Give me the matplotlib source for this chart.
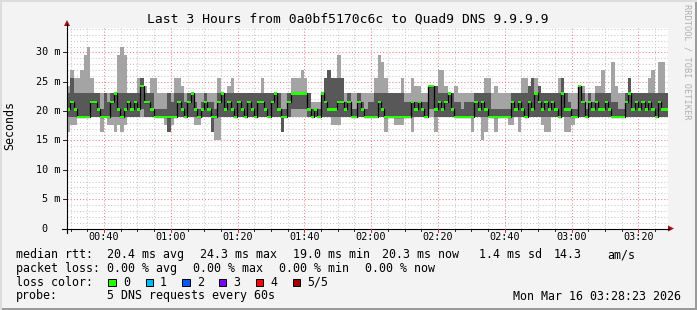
import numpy as np
import matplotlib
matplotlib.use('Agg')
import matplotlib.pyplot as plt
from matplotlib.patches import Rectangle, Polygon
from matplotlib.lines import Line2D

# ---------------- data (ms), one value per 1-minute sample ----------------
ping_min = [
    16.4, 17.7, 17.7, 19.0, 19.0, 19.0, 19.0, 19.0, 19.0, 19.0,
    16.4, 19.0, 17.7, 17.7, 16.4, 17.7, 16.4, 17.7, 19.0, 19.0,
    19.0, 19.0, 19.0, 19.0, 19.0, 19.0, 19.0, 19.0, 19.0, 17.7,
    16.4, 17.7, 19.0, 19.0, 19.0, 19.0, 19.0, 19.0, 17.7, 17.7,
    19.0, 19.0, 19.0, 16.4, 15.0, 15.0, 19.0, 19.0, 19.0, 19.0,
    19.0, 19.0, 19.0, 19.0, 19.0, 19.0, 19.0, 19.0, 19.0, 19.0,
    19.0, 19.0, 19.0, 19.0, 16.4, 19.0, 19.0, 19.0, 19.0, 19.0,
    19.0, 19.0, 19.0, 19.0, 19.0, 19.0, 19.0, 19.0, 19.0, 17.7,
    17.7, 17.7, 19.0, 19.0, 19.0, 19.0, 19.0, 19.0, 19.0, 19.0,
    19.0, 19.0, 19.0, 19.0, 19.0, 16.4, 19.0, 19.0, 17.7, 17.7,
    17.7, 19.0, 19.0, 16.4, 19.0, 19.0, 19.0, 19.0, 19.0, 19.0,
    16.4, 19.0, 19.0, 19.0, 19.0, 19.0, 19.0, 19.0, 19.0, 19.0,
    19.0, 16.4, 19.0, 19.0, 15.0, 16.4, 19.0, 19.0, 16.4, 19.0,
    19.0, 19.0, 17.7, 17.7, 19.0, 16.4, 19.0, 19.0, 19.0, 19.0,
    19.0, 19.0, 17.7, 16.4, 16.4, 19.0, 19.0, 19.0, 19.0, 16.4,
    16.4, 17.7, 19.0, 19.0, 19.0, 19.0, 19.0, 19.0, 19.0, 19.0,
    19.0, 19.0, 19.0, 19.0, 19.0, 19.0, 19.0, 19.0, 19.0, 19.0,
    19.0, 19.0, 19.0, 19.0, 19.0, 19.0, 19.0, 19.0, 19.0, 19.0,
]
ping_low = [
    19.0, 19.0, 19.0, 19.0, 19.0, 19.0, 19.0, 19.0, 19.0, 19.0,
    19.0, 19.0, 19.0, 19.0, 19.0, 19.0, 19.0, 19.0, 19.0, 19.0,
    19.0, 19.0, 20.3, 19.0, 19.0, 19.0, 19.0, 19.0, 19.0, 19.0,
    16.4, 19.0, 19.0, 19.0, 19.0, 19.0, 19.0, 19.0, 19.0, 19.0,
    19.0, 19.0, 19.0, 16.4, 19.0, 19.0, 19.0, 19.0, 19.0, 19.0,
    19.0, 19.0, 19.0, 19.0, 19.0, 19.0, 19.0, 19.0, 19.0, 19.0,
    19.0, 19.0, 19.0, 19.0, 16.4, 19.0, 19.0, 20.3, 20.3, 20.3,
    20.3, 20.3, 19.0, 19.0, 19.0, 19.0, 19.0, 19.0, 19.0, 19.0,
    19.0, 19.0, 19.0, 19.0, 19.0, 19.0, 19.0, 19.0, 19.0, 19.0,
    19.0, 19.0, 19.0, 19.0, 19.0, 19.0, 19.0, 19.0, 19.0, 19.0,
    19.0, 19.0, 19.0, 19.0, 19.0, 19.0, 19.0, 19.0, 20.3, 20.3,
    19.0, 19.0, 19.0, 19.0, 19.0, 19.0, 19.0, 19.0, 19.0, 19.0,
    19.0, 19.0, 19.0, 19.0, 19.0, 19.0, 19.0, 19.0, 19.0, 19.0,
    19.0, 19.0, 19.0, 19.0, 19.0, 19.0, 19.0, 19.0, 19.0, 19.0,
    19.0, 19.0, 19.0, 19.0, 19.0, 19.0, 19.0, 19.0, 19.0, 19.0,
    19.0, 19.0, 19.0, 19.0, 19.0, 19.0, 19.0, 19.0, 19.0, 19.0,
    19.0, 19.0, 19.0, 19.0, 19.0, 19.0, 19.0, 19.0, 19.0, 19.0,
    19.0, 19.0, 19.0, 19.0, 19.0, 19.0, 19.0, 19.0, 19.0, 19.0,
]
median_rtt = [
    20.3, 21.6, 20.3, 19.0, 19.0, 19.0, 19.0, 21.6, 21.6, 20.3,
    19.0, 19.0, 19.0, 21.6, 23.0, 20.3, 19.0, 20.3, 21.6, 20.3,
    21.6, 20.3, 24.3, 21.6, 21.6, 20.3, 19.0, 19.0, 19.0, 19.0,
    19.0, 19.0, 19.0, 21.6, 20.3, 19.0, 21.6, 23.0, 20.3, 19.0,
    20.3, 21.6, 20.3, 19.0, 19.0, 21.6, 23.0, 20.3, 21.6, 20.3,
    19.0, 21.6, 20.3, 19.0, 21.6, 20.3, 19.0, 21.6, 21.6, 20.3,
    19.0, 21.6, 23.0, 20.3, 19.0, 19.0, 21.6, 23.0, 23.0, 23.0,
    23.0, 23.0, 20.3, 19.0, 20.3, 19.0, 23.0, 21.6, 20.3, 20.3,
    20.3, 21.6, 21.6, 20.3, 21.6, 19.0, 19.0, 21.6, 20.3, 19.0,
    19.0, 19.0, 19.0, 21.6, 20.3, 19.0, 19.0, 19.0, 19.0, 19.0,
    19.0, 19.0, 19.0, 21.6, 20.3, 21.6, 20.3, 19.0, 24.3, 24.3,
    20.3, 21.6, 20.3, 21.6, 23.0, 20.3, 19.0, 19.0, 19.0, 19.0,
    19.0, 19.0, 21.6, 20.3, 21.6, 20.3, 19.0, 19.0, 19.0, 19.0,
    19.0, 19.0, 19.0, 21.6, 20.3, 21.6, 20.3, 19.0, 21.6, 20.3,
    23.0, 21.6, 20.3, 21.6, 20.3, 21.6, 20.3, 19.0, 23.0, 20.3,
    20.3, 19.0, 19.0, 24.3, 21.6, 19.0, 21.6, 20.3, 21.6, 20.3,
    20.3, 21.6, 20.3, 19.0, 19.0, 19.0, 19.0, 21.6, 23.0, 20.3,
    21.6, 20.3, 21.6, 20.3, 21.6, 20.3, 19.0, 21.6, 20.3, 20.3,
]
ping_high = [
    23.0, 25.6, 23.0, 23.0, 23.0, 23.0, 23.0, 23.0, 23.0, 23.0,
    20.3, 23.0, 21.6, 23.0, 23.0, 23.0, 23.0, 23.0, 23.0, 23.0,
    23.0, 23.0, 25.6, 23.0, 23.0, 23.0, 20.3, 20.3, 20.3, 20.3,
    23.0, 21.6, 23.0, 23.0, 23.0, 21.6, 23.0, 23.0, 21.6, 20.3,
    21.6, 23.0, 21.6, 21.6, 20.3, 23.0, 23.0, 23.0, 23.0, 23.0,
    23.0, 23.0, 23.0, 23.0, 23.0, 23.0, 23.0, 23.0, 23.0, 23.0,
    23.0, 23.0, 23.0, 23.0, 20.3, 20.3, 23.0, 23.0, 23.0, 23.0,
    23.0, 23.0, 23.0, 20.3, 20.3, 20.3, 23.0, 25.6, 27.0, 25.6,
    25.6, 25.6, 25.6, 21.6, 23.0, 20.3, 20.3, 23.0, 21.6, 20.3,
    21.6, 21.6, 23.0, 23.0, 23.0, 23.0, 23.0, 23.0, 23.0, 23.0,
    23.0, 21.6, 21.6, 21.6, 21.6, 21.6, 21.6, 21.6, 24.3, 24.3,
    24.3, 23.0, 23.0, 23.0, 23.0, 23.0, 21.6, 21.6, 20.3, 21.6,
    21.6, 21.6, 23.0, 23.0, 23.0, 23.0, 23.0, 20.3, 20.3, 20.3,
    20.3, 20.3, 20.3, 23.0, 23.0, 23.0, 23.0, 23.0, 24.3, 25.6,
    23.0, 24.3, 23.0, 23.0, 23.0, 23.0, 23.0, 23.0, 25.6, 23.0,
    21.6, 20.3, 20.3, 24.3, 23.0, 20.3, 23.0, 21.6, 23.0, 23.0,
    23.0, 23.0, 23.0, 21.6, 21.6, 20.3, 20.3, 23.0, 25.6, 23.0,
    23.0, 23.0, 23.0, 23.0, 23.0, 23.0, 23.0, 23.0, 23.0, 23.0,
]
ping_max = [
    24.3, 27.0, 25.6, 25.6, 27.0, 29.6, 31.0, 25.6, 23.0, 23.0,
    23.0, 23.0, 23.0, 23.0, 23.0, 29.6, 31.0, 29.6, 23.0, 23.0,
    23.0, 25.6, 25.6, 24.3, 23.0, 25.6, 25.6, 23.0, 23.0, 23.0,
    23.0, 23.0, 25.6, 25.6, 24.3, 23.0, 23.0, 23.0, 23.0, 23.0,
    23.0, 23.0, 23.0, 23.0, 23.0, 25.6, 23.0, 23.0, 24.3, 25.6,
    23.0, 23.0, 23.0, 23.0, 23.0, 23.0, 23.0, 23.0, 25.6, 23.0,
    23.0, 23.0, 23.0, 23.0, 23.0, 23.0, 23.0, 25.6, 25.6, 25.6,
    27.0, 25.6, 23.0, 21.6, 21.6, 21.6, 23.0, 25.6, 27.0, 25.6,
    25.6, 29.6, 25.6, 23.0, 23.0, 23.0, 23.0, 23.0, 23.0, 23.0,
    23.0, 23.0, 25.6, 29.6, 28.3, 25.6, 23.0, 23.0, 23.0, 23.0,
    25.6, 23.0, 23.0, 25.6, 24.3, 24.3, 23.0, 23.0, 24.3, 24.3,
    24.3, 27.0, 27.0, 24.3, 23.0, 23.0, 24.3, 23.0, 23.0, 23.0,
    23.0, 23.0, 23.0, 23.0, 23.0, 25.6, 25.6, 23.0, 24.3, 23.0,
    23.0, 23.0, 23.0, 23.0, 23.0, 23.0, 25.6, 25.6, 24.3, 25.6,
    25.6, 24.3, 23.0, 23.0, 23.0, 23.0, 23.0, 25.6, 25.6, 23.0,
    23.0, 23.0, 23.0, 24.3, 24.3, 23.0, 23.0, 23.0, 24.3, 24.3,
    27.0, 23.0, 23.0, 28.3, 24.3, 23.0, 23.0, 23.0, 25.6, 23.0,
    23.0, 23.0, 23.0, 23.0, 25.6, 27.0, 23.0, 28.3, 28.3, 23.0,
]

time_labels = ["00:40", "01:00", "01:20", "01:40", "02:00", "02:20", "02:40", "03:00", "03:20"]
time_label_minutes = [40, 60, 80, 100, 120, 140, 160, 180, 200]
y_tick_values = [0, 5, 10, 15, 20, 25, 30]
y_tick_labels = ["0", "5 m", "10 m", "15 m", "20 m", "25 m", "30 m"]

title = "Last 3 Hours from 0a0bf5170c6c to Quad9 DNS 9.9.9.9"
loss_labels = ["0", "1", "2", "3", "4", "5/5"]
loss_colors = ["#26ff00", "#00b8ff", "#0059ff", "#7e00ff", "#ff0000", "#a10000"]

# ---------------- layout ----------------
W, H = 697, 310
fig = plt.figure(figsize=(W / 100, H / 100), dpi=100)
fig.patch.set_facecolor('#f3f3f3')
MONO = 'DejaVu Sans Mono'


def fx(x):
    return x / W


def fy(y):
    return 1 - y / H


X0, X1, YB, YT = 67, 668, 228.5, 28
ax = fig.add_axes([fx(X0), fy(YB), (X1 - X0) / W, (YB - YT) / H])
ax.set_facecolor('white')
start = 28.9
n = len(median_rtt)
edges = start + np.arange(n + 1)
ax.set_xlim(start, start + 180)
ax.set_ylim(0, (YB - YT) / 5.87)
for s in ax.spines.values():
    s.set_visible(False)
ax.set_xticks([])
ax.set_yticks([])

DOT = (0, (1, 2))
# grid
for t in range(30, 210, 5):
    if t % 20 != 0:
        ax.axvline(t, color='#c8c8c8', lw=0.75, ls=DOT, zorder=0)
for v in range(1, 35):
    if v % 5 != 0:
        ax.axhline(v, color='#c8c8c8', lw=0.75, ls=DOT, zorder=0)
for t in time_label_minutes:
    ax.axvline(t, color='#f08080', lw=0.75, ls=DOT, zorder=1)
for v in y_tick_values[1:]:
    ax.axhline(v, color='#f08080', lw=0.75, ls=DOT, zorder=1)

pmin = np.array(ping_min)
plow = np.array(ping_low)
med = np.array(median_rtt)
phigh = np.array(ping_high)
pmax = np.array(ping_max)

ax.stairs(pmax, edges, baseline=pmin, fill=True, color='#a4a4a4', lw=0, zorder=2)
ax.stairs(phigh, edges, baseline=plow, fill=True, color='#585858', lw=0, zorder=3)
ax.stairs(med, edges, baseline=None, color='#000000', lw=0.9, zorder=4)
ax.stairs(med + 0.2, edges, baseline=med - 0.2, fill=True, color=loss_colors[0], lw=0, zorder=5)

# axis lines and arrows (figure pixel coordinates)
fig.add_artist(Line2D([fx(X0), fx(X0)], [fy(YB + 4), fy(24)], color='black', lw=0.8))
fig.add_artist(Line2D([fx(62), fx(X1 + 1)], [fy(YB), fy(YB)], color='black', lw=0.8))
fig.add_artist(Polygon([[fx(64), fy(26)], [fx(70), fy(26)], [fx(67), fy(20)]],
                       closed=True, color='#a01010', lw=0))
fig.add_artist(Polygon([[fx(668), fy(YB - 3)], [fx(668), fy(YB + 3)], [fx(674), fy(YB)]],
                       closed=True, color='#a01010', lw=0))

def tx(t):
    return X0 + (t - start) * (X1 - X0) / 180.0

# x ticks & labels
for t in range(30, 210, 5):
    fig.add_artist(Line2D([fx(tx(t)), fx(tx(t))], [fy(YB), fy(YB + 2)], color='black', lw=0.6))
for t, lab in zip(time_label_minutes, time_labels):
    fig.add_artist(Line2D([fx(tx(t)), fx(tx(t))], [fy(YB), fy(YB + 3)], color='#c03030', lw=0.7))
    fig.text(fx(tx(t)), fy(237.5), lab, ha='center', va='center', family=MONO, fontsize=7.3)

# y ticks & labels
for v, lab in zip(y_tick_values, y_tick_labels):
    y = YB - v * 5.87
    fig.add_artist(Line2D([fx(63), fx(X0)], [fy(y), fy(y)], color='black', lw=0.6))
    xr = 47.5 if v == 0 else 60
    fig.text(fx(xr), fy(y), lab, ha='right', va='center', family=MONO, fontsize=7.3)

fig.text(fx(10), fy(126), 'Seconds', rotation=90, ha='center', va='center', family=MONO, fontsize=8.4)
fig.text(fx(347.7), fy(19.3), title, ha='center', va='center', family=MONO, fontsize=9.4)
fig.text(fx(687.5), fy(62), 'RRDTOOL / TOBI OETIKER', rotation=270, ha='center', va='center',
         family=MONO, fontsize=6.2, color='#b0b0b0')

# legend
LS = 8.4
def lt(x, y, s):
    fig.text(fx(x), fy(y), s, ha='left', va='center', family=MONO, fontsize=LS)

r1, r2, r3, r4 = 254.5, 268.3, 282.3, 296.0
lt(16, r1, 'median rtt:')
lt(107.3, r1, '20.4 ms avg')
lt(200, r1, '24.3 ms max')
lt(293.3, r1, '19.0 ms min')
lt(381.7, r1, '20.3 ms now')
lt(479.3, r1, '1.4 ms sd')
lt(554, r1, '14.3')
lt(607.7, r1, 'am/s')
lt(16, r2, 'packet loss:')
lt(107.3, r2, '0.00 % avg')
lt(193.3, r2, '0.00 % max')
lt(279.3, r2, '0.00 % min')
lt(365, r2, '0.00 % now')
lt(16, r3, 'loss color:')
box_x = [108.3, 145.7, 182.3, 219.0, 256.0, 292.7]
lab_x = [123.3, 160.0, 196.7, 233.3, 270.7, 307.3]
for bx, lx, lab, col in zip(box_x, lab_x, loss_labels, loss_colors):
    fig.add_artist(Rectangle((fx(bx), fy(r3 + 3.7)), 7.3 / W, 7.3 / H, facecolor=col,
                             edgecolor='black', lw=0.7))
    lt(lx, r3, lab)
lt(16, r4, 'probe:')
lt(107.3, r4, '5 DNS requests every 60s')
lt(513.3, r4, 'Mon Mar 16 03:28:23 2026')

# frame
fig.add_artist(Rectangle((0, 0), 1, 2 / H, facecolor='#9a9a9a', lw=0))
fig.add_artist(Rectangle((1 - 2 / W, 0), 2 / W, 1, facecolor='#9a9a9a', lw=0))
fig.add_artist(Rectangle((0, 1 - 2 / H), 1, 2 / H, facecolor='#dcdcdc', lw=0))
fig.add_artist(Rectangle((0, 0), 2 / W, 1, facecolor='#dcdcdc', lw=0))

fig.savefig('out.png', dpi=100, facecolor=fig.get_facecolor())
